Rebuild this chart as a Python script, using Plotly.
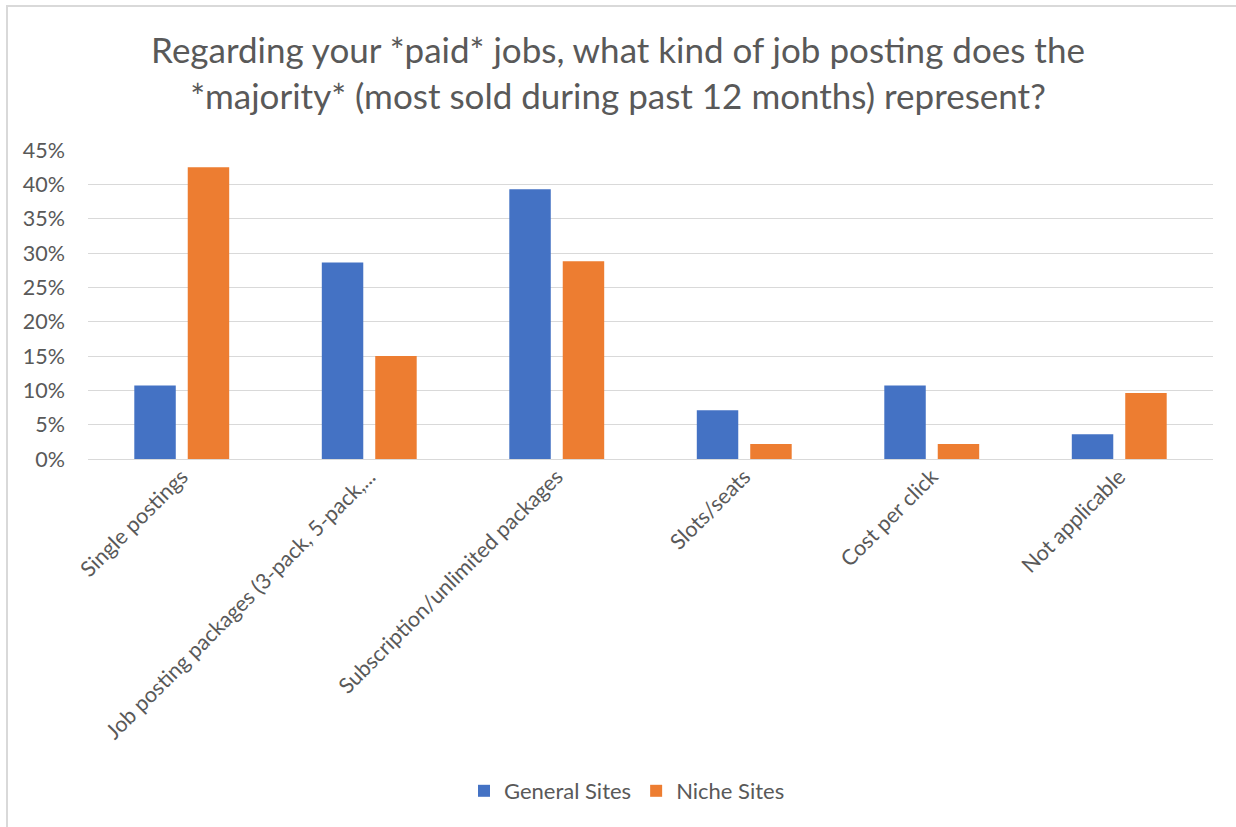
import plotly.graph_objects as go

categories = [
    "Single postings",
    "Job posting packages (3-pack, 5-pack,...",
    "Subscription/unlimited packages",
    "Slots/seats",
    "Cost per click",
    "Not applicable",
]
general_sites = [0.107, 0.286, 0.393, 0.071, 0.107, 0.036]
niche_sites = [0.425, 0.150, 0.288, 0.022, 0.022, 0.096]
y_ticks = [0, 0.05, 0.10, 0.15, 0.20, 0.25, 0.30, 0.35, 0.40, 0.45]
y_tick_labels = ["0%", "5%", "10%", "15%", "20%", "25%", "30%", "35%", "40%", "45%"]

FONT = "Lato"
TEXT = "#595959"

fig = go.Figure()
fig.add_trace(go.Bar(name="General Sites", x=categories, y=general_sites,
                     marker=dict(color="#4472C4", line=dict(width=0))))
fig.add_trace(go.Bar(name="Niche Sites", x=categories, y=niche_sites,
                     marker=dict(color="#ED7D31", line=dict(width=0))))

L, R, T, B = 88, 23, 150, 368
W, H = 1236, 827
pw, ph = W - L - R, H - T - B

def px_x(v):
    return (v - L) / pw

def px_y(v):
    return (H - B - v) / ph

fig.update_layout(
    width=W, height=H,
    margin=dict(l=L, r=R, t=T, b=B),
    paper_bgcolor="white", plot_bgcolor="white",
    font=dict(family=FONT, color=TEXT, size=21),
    barmode="group", bargap=0.43, bargroupgap=0.224,
    title=dict(
        text="Regarding your *paid* jobs, what kind of job posting does the<br>*majority* (most sold during past 12 months) represent?",
        x=0.5, xanchor="center", y=1 - 63 / H, yanchor="middle",
        font=dict(family=FONT, size=35, color=TEXT),
    ),
    xaxis=dict(tickangle=-45, showgrid=False, showline=False, ticks="",
               tickfont=dict(size=21.5, color=TEXT)),
    yaxis=dict(range=[0, 0.45], tickvals=y_ticks, ticktext=y_tick_labels,
               showgrid=True, gridcolor="#D9D9D9", gridwidth=1.3,
               zeroline=True, zerolinecolor="#D9D9D9", zerolinewidth=1.3,
               showline=False, ticks="", ticklabelstandoff=22,
               tickfont=dict(size=21.5, color=TEXT)),
    legend=dict(orientation="h", x=px_x(627), xanchor="center",
                y=px_y(791), yanchor="middle",
                font=dict(size=22, color=TEXT), itemwidth=30,
                traceorder="normal"),
    shapes=[dict(type="rect", xref="paper", yref="paper",
                 x0=px_x(7), x1=px_x(1240), y0=px_y(835), y1=px_y(6),
                 line=dict(color="#D9D9D9", width=2), layer="below")],
)

fig.write_html("out.html")
